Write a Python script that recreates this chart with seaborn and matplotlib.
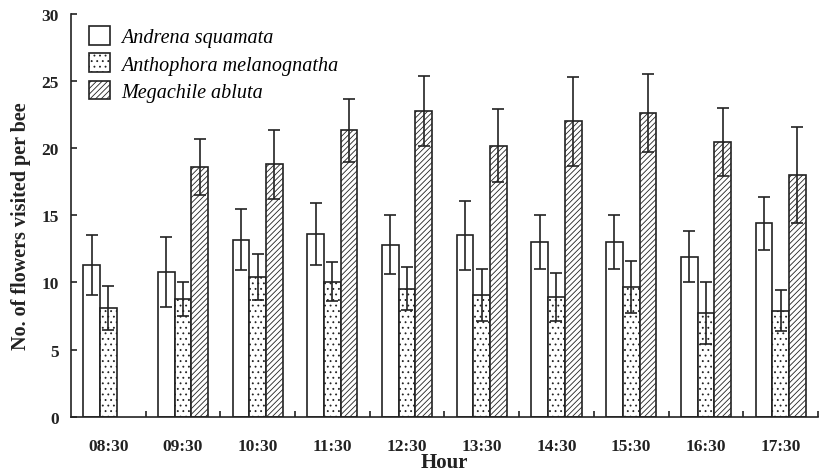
import numpy as np
import pandas as pd
import matplotlib
matplotlib.use("Agg")
import matplotlib.pyplot as plt
import seaborn as sns

hours = ["08:30", "09:30", "10:30", "11:30", "12:30",
         "13:30", "14:30", "15:30", "16:30", "17:30"]
species = ["Andrena squamata", "Anthophora melanognatha", "Megachile abluta"]

andrena = [11.3, 10.8, 13.2, 13.6, 12.8, 13.5, 13.0, 13.0, 11.9, 14.4]
andrena_err = [2.2, 2.6, 2.25, 2.3, 2.2, 2.6, 2.0, 2.0, 1.9, 2.0]
anthophora = [8.1, 8.75, 10.4, 10.05, 9.55, 9.05, 8.9, 9.65, 7.75, 7.9]
anthophora_err = [1.65, 1.25, 1.7, 1.45, 1.6, 1.95, 1.8, 1.95, 2.3, 1.55]
megachile = [np.nan, 18.6, 18.8, 21.35, 22.75, 20.2, 22.0, 22.65, 20.45, 18.0]
megachile_err = [np.nan, 2.05, 2.55, 2.35, 2.6, 2.7, 3.3, 2.9, 2.55, 3.55]

hatches = ["", "...", "//////"]

plt.rcParams["font.family"] = ["Liberation Serif", "DejaVu Serif"]
plt.rcParams["hatch.linewidth"] = 0.6
plt.rcParams["hatch.color"] = "#222222"

df = pd.DataFrame({
    "hour": hours * 3,
    "species": np.repeat(species, len(hours)),
    "value": andrena + anthophora + megachile,
    "err": andrena_err + anthophora_err + megachile_err,
}).dropna()

fig = plt.figure(figsize=(8.22, 4.77), dpi=100)
ax = fig.add_axes([0.0864, 0.1243, 0.9086, 0.8443])

sns.barplot(data=df, x="hour", y="value", hue="species", order=hours,
            hue_order=species, palette=["white"] * 3, width=0.67,
            edgecolor="#222222", linewidth=1.2, errorbar=None,
            legend=False, ax=ax)

for cont, sp, h in zip(ax.containers, species, hatches):
    sub = df[df["species"] == sp].set_index("hour").reindex(hours).dropna()
    xs = [p.get_x() + p.get_width() / 2 for p in cont.patches]
    ys = [p.get_height() for p in cont.patches]
    for p in cont.patches:
        p.set_hatch(h)
    ax.errorbar(xs, ys, yerr=sub["err"].values, fmt="none", ecolor="#222222",
                elinewidth=1.2, capsize=4, capthick=1.2)

ax.set_xlim(-0.5, len(hours) - 0.5)
ax.set_ylim(0, 30)
ax.set_yticks(range(0, 31, 5))
ax.set_xticks(np.arange(0.5, len(hours), 1), minor=True)

sns.despine(ax=ax)
for s in ["left", "bottom"]:
    ax.spines[s].set_linewidth(1.2)
    ax.spines[s].set_color("#222222")

ax.tick_params(axis="y", direction="in", length=4, width=1.2, pad=9,
               labelsize=12.5, colors="#222222")
ax.tick_params(axis="x", which="major", length=0, pad=15, labelsize=12.5,
               colors="#222222")
ax.tick_params(axis="x", which="minor", direction="in", length=4, width=1.2,
               colors="#222222")
for lab in ax.get_xticklabels() + ax.get_yticklabels():
    lab.set_fontweight("bold")

ax.set_xlabel("Hour", fontsize=15, fontweight="bold", labelpad=-1, color="#222222")
ax.set_ylabel("No. of flowers visited per bee", fontsize=14.5,
              fontweight="bold", color="#222222")
ax.yaxis.set_label_coords(-0.054, 0.475)

leg = ax.legend(ax.containers, species, loc="upper left",
                bbox_to_anchor=(0.0, 1.015), frameon=False,
                prop={"style": "italic", "size": 14.5},
                handlelength=1.05, handleheight=1.05, labelspacing=0.3,
                handletextpad=0.55)

fig.savefig("out.png", dpi=100)
